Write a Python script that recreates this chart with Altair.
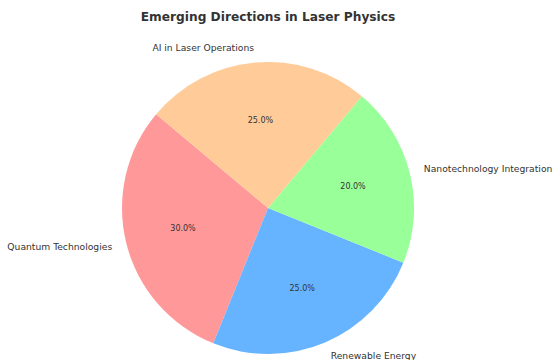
import math
import altair as alt
import pandas as pd

categories = ["Quantum Technologies", "Renewable Energy", "Nanotechnology Integration", "AI in Laser Operations"]
shares = [30, 25, 20, 25]
colors = ["#ff9999", "#66b3ff", "#99ff99", "#ffcc99"]
start_angle = 140  # matplotlib-style start angle, counter-clockwise

total = sum(shares)
sides = []
acc = start_angle
for v in shares:
    span = v / total * 360
    mid = acc + span / 2
    acc += span
    sides.append("left" if math.cos(math.radians(mid)) > 0 else "right")

df = pd.DataFrame({
    "category": categories,
    "share": shares,
    "idx": list(range(len(categories))),
    "pct": [f"{v / total * 100:.1f}%" for v in shares],
    "label_left": [c if s == "left" else "" for c, s in zip(categories, sides)],
    "label_right": [c if s == "right" else "" for c, s in zip(categories, sides)],
})

R = 146
theta0 = math.radians(90 - start_angle) + 2 * math.pi

theta = alt.Theta("share:Q", stack=True,
                  scale=alt.Scale(range=[theta0, theta0 + 2 * math.pi]))
order = alt.Order("idx:Q", sort="descending")

base = alt.Chart(df)

arcs = base.mark_arc(radius=R).encode(
    theta=theta,
    order=order,
    color=alt.Color("category:N",
                    scale=alt.Scale(domain=categories, range=colors),
                    legend=None),
)

pct = base.mark_text(radius=0.6 * R, fontSize=8, font="DejaVu Sans",
                     color="#333333", baseline="middle", align="center").encode(
    theta=theta, order=order, text="pct:N")

lab_left = base.mark_text(radius=1.1 * R, fontSize=9.2, font="DejaVu Sans",
                          color="#333333", baseline="middle", align="left").encode(
    theta=theta, order=order, text="label_left:N")

lab_right = base.mark_text(radius=1.1 * R, fontSize=9.2, font="DejaVu Sans",
                           color="#333333", baseline="middle", align="right").encode(
    theta=theta, order=order, text="label_right:N")

chart = alt.layer(arcs, pct, lab_left, lab_right).properties(
    width=536,
    height=292,
    title=alt.TitleParams("Emerging Directions in Laser Physics", fontSize=12.2,
                          fontWeight="bold", font="DejaVu Sans", color="#333333",
                          anchor="middle", frame="group", baseline="middle",
                          offset=15),
    autosize=alt.AutoSizeParams(type="none"),
    padding={"left": 0, "top": 62, "right": 19, "bottom": 6},
).configure_view(stroke=None).configure(background="white")

chart.save("out.html", embed_options={"renderer": "svg", "actions": False})
